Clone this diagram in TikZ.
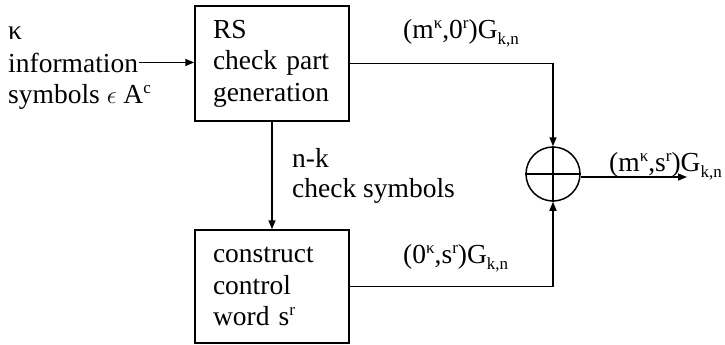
\documentclass[tikz,border=0pt]{standalone}
\usepackage{fontspec}
\setmainfont{Liberation Serif}
\usetikzlibrary{arrows.meta}
\newcommand\sps[1]{\raisebox{0.36em}{\fontsize{17}{17}\selectfont #1}}
\newcommand\sbs[1]{\raisebox{-0.22em}{\fontsize{17}{17}\selectfont #1}}
\begin{document}
\begin{tikzpicture}[x=1pt,y=-1pt,
  every node/.style={font=\fontsize{27.5}{31.5}\selectfont, inner sep=0pt},
  blk/.style={draw, line width=1.5pt, minimum height=115pt, align=left, text width=118pt, inner xsep=18pt},
  conn/.style={line width=1.5pt},
  arr/.style={conn, -{Triangle[length=9pt,width=7pt]}},
  lbl/.style={anchor=base west}]
\useasboundingbox (0,0) rectangle (725,345);
\node[blk] (rs) at (272,63.5) {RS\\\mbox{check part}\\\mbox{generation}};
\node[blk, minimum height=113pt] (cw) at (272,286.5) {construct\\control\\word s\sps{r}};
\node[draw, circle, line width=1.5pt, minimum size=54pt] (sum) at (553,174) {};
\draw[conn] (sum.north) -- (sum.south) (sum.west) -- (sum.east);
\node[lbl] (kappa) at (8,40) {κ};
\node[lbl] (info) at (8,72) {information};
\node[lbl] (sym) at (8,103) {symbols $\epsilon$ A\sps{c}};
\node[lbl] (l1) at (403,38) {(m\sps{κ},0\sps{r})G\sbs{k,n}};
\node[lbl] (nk) at (292,167) {n-k};
\node[lbl] (cs) at (292,197) {check symbols};
\node[lbl] (l2) at (403,263) {(0\sps{κ},s\sps{r})G\sbs{k,n}};
\node[lbl] (l3) at (609,171) {(m\sps{κ},s\sps{r})G\sbs{k,n}};
\coordinate (out) at (687,177);
\draw[arr] ([xshift=1pt]info.east) -- (info.east -| rs.west);
\draw[arr] (rs.south) -- (cw.north);
\draw[arr] (rs.east) -| (sum.north);
\draw[arr] (cw.east) -| (sum.south);
\draw[arr] ([yshift=-3pt]sum.east) -- (out);
\end{tikzpicture}
\end{document}
